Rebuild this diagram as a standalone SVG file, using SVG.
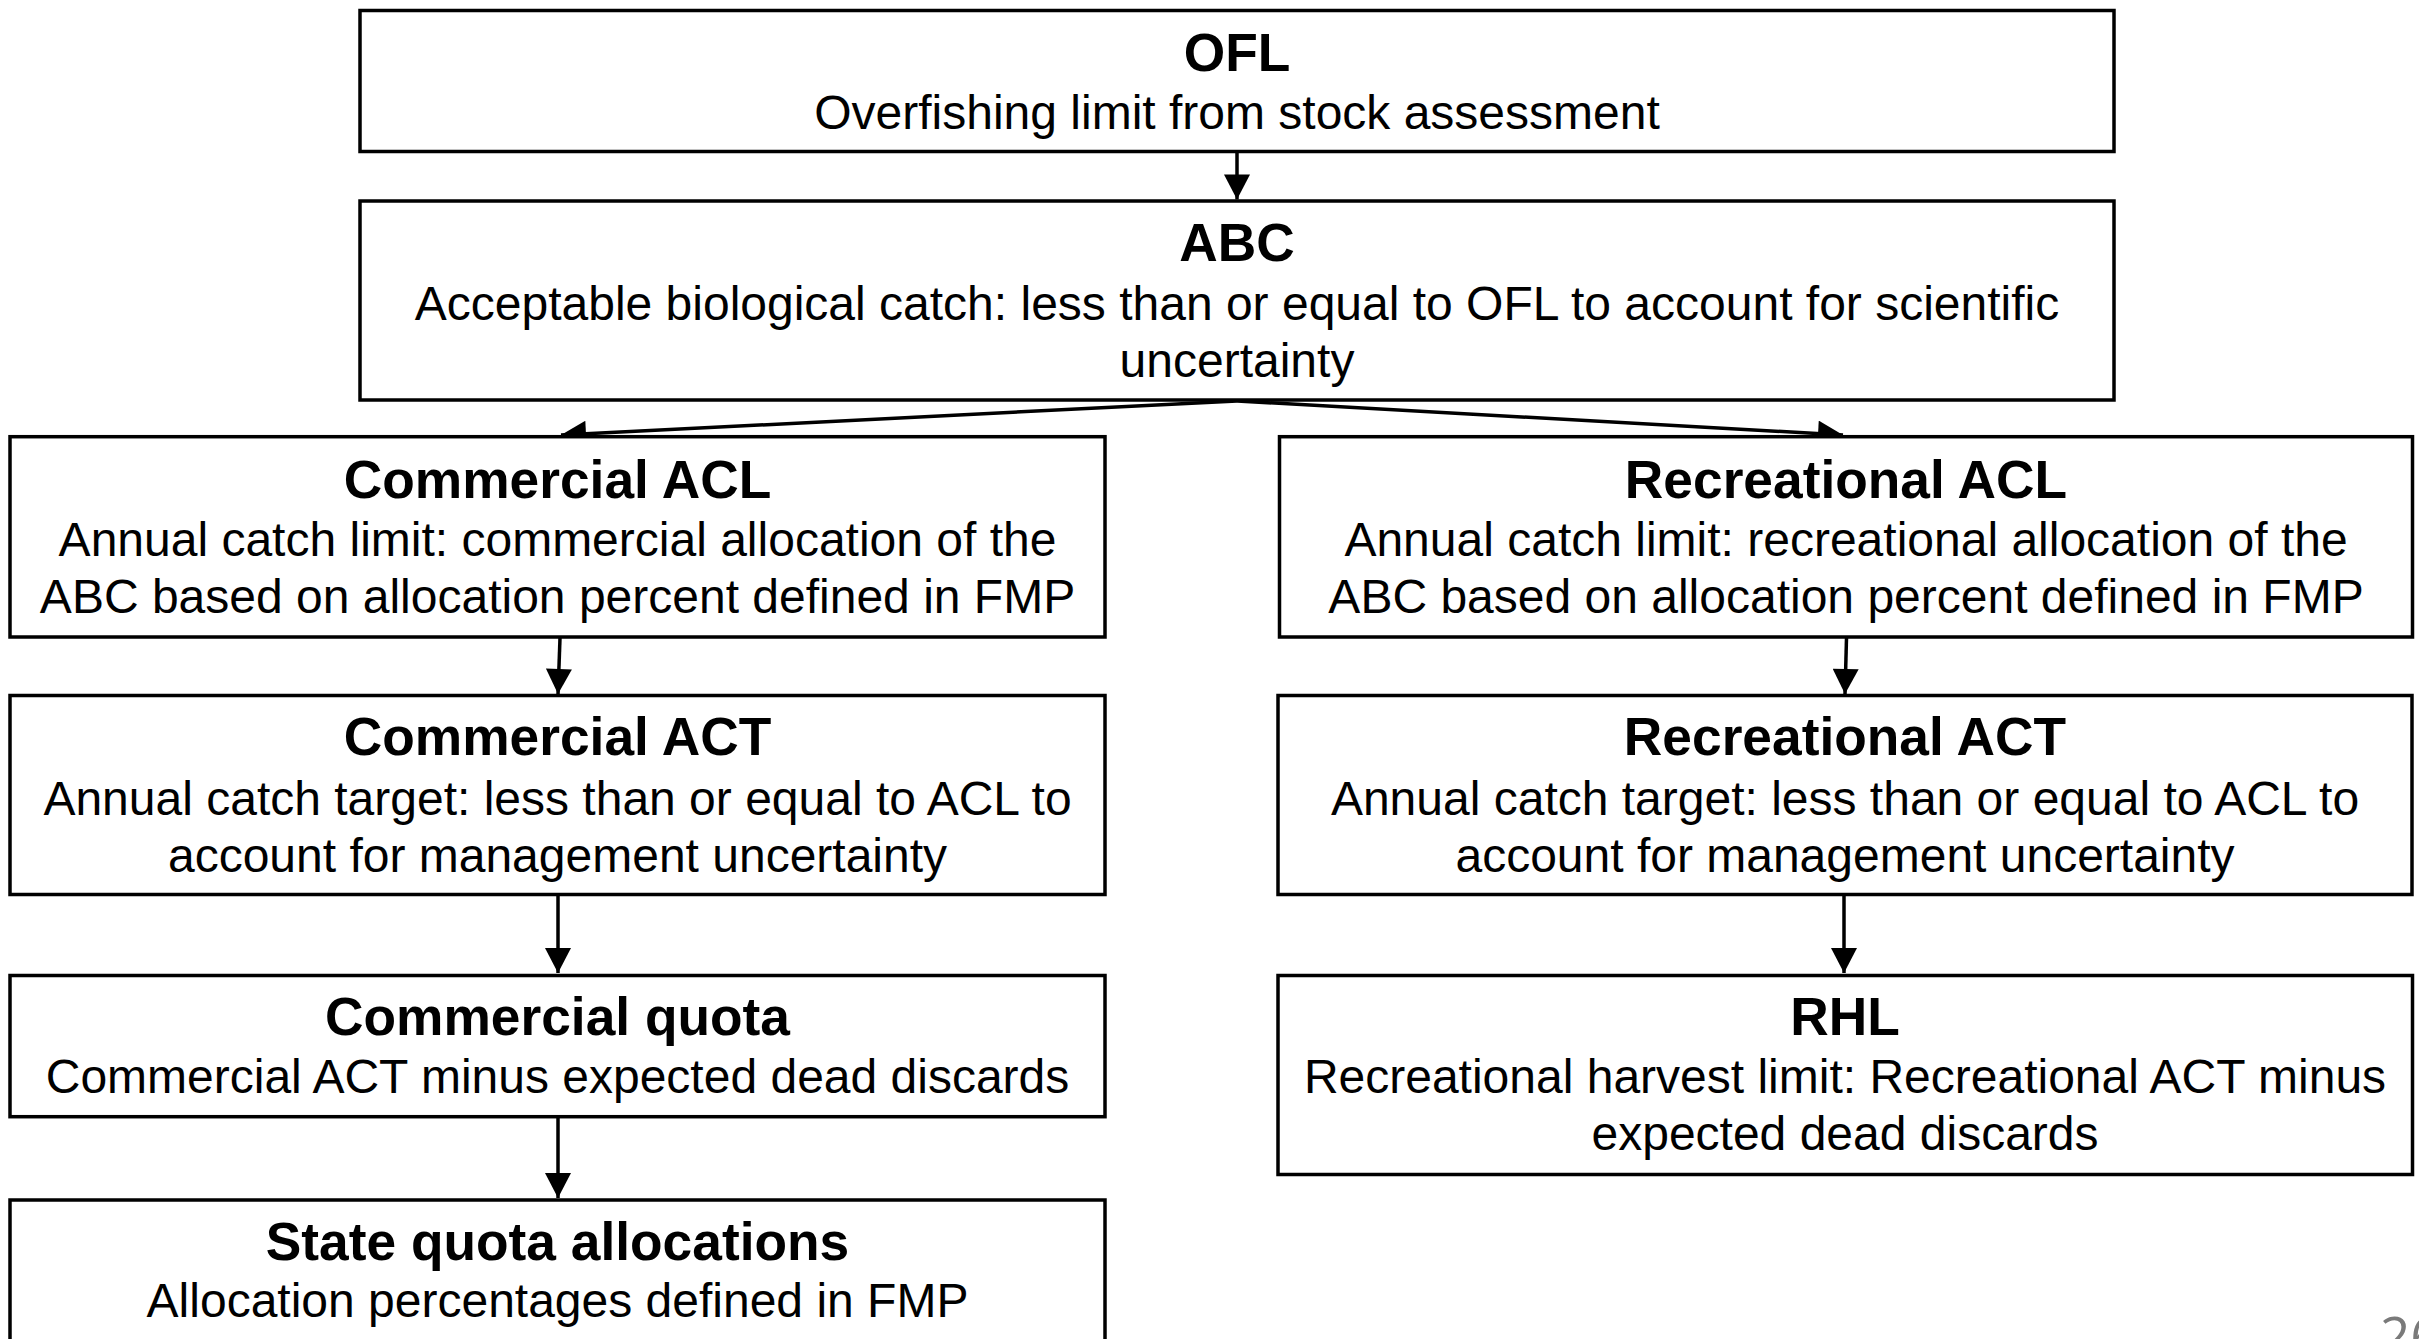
<svg xmlns="http://www.w3.org/2000/svg" width="2419" height="1339" viewBox="0 0 2419 1339">
<style>
.box{fill:#ffffff;stroke:#000000;stroke-width:3.5}
.t{font-family:"Liberation Sans",Arial,sans-serif;font-weight:bold;font-size:53.3px;fill:#000;text-anchor:middle}
.b{font-family:"Liberation Sans",Arial,sans-serif;font-size:48px;fill:#000;text-anchor:middle}
.c{fill:none;stroke:#000;stroke-width:3.5}
</style>
<defs>
<marker id="ah" markerUnits="userSpaceOnUse" markerWidth="26" markerHeight="26" viewBox="0 0 25 26" refX="25" refY="13" orient="auto">
<path d="M0,0 L25,13 L0,26 z" fill="#000"/>
</marker>
</defs>
<rect width="2419" height="1339" fill="#ffffff"/>
<g id="connectors">
<line class="c" x1="1237" y1="152" x2="1237" y2="199.5" marker-end="url(#ah)"/>
<line class="c" x1="1237" y1="401" x2="561" y2="435" marker-end="url(#ah)"/>
<line class="c" x1="1237" y1="401" x2="1843" y2="435" marker-end="url(#ah)"/>
<line class="c" x1="560" y1="638" x2="558" y2="694" marker-end="url(#ah)"/>
<line class="c" x1="558" y1="895" x2="558" y2="973" marker-end="url(#ah)"/>
<line class="c" x1="558" y1="1117" x2="558" y2="1198" marker-end="url(#ah)"/>
<line class="c" x1="1846.5" y1="638" x2="1845" y2="694" marker-end="url(#ah)"/>
<line class="c" x1="1844" y1="895" x2="1844" y2="973" marker-end="url(#ah)"/>
</g>
<g id="ofl">
<rect class="box" x="360" y="10.5" width="1754" height="141"/>
<text class="t" x="1237" y="70.7">OFL</text>
<text class="b" x="1237" y="129.3">Overfishing limit from stock assessment</text>
</g>
<g id="abc">
<rect class="box" x="360" y="201" width="1754" height="199"/>
<text class="t" x="1237" y="261">ABC</text>
<text class="b" x="1237" y="320">Acceptable biological catch: less than or equal to OFL to account for scientific</text>
<text class="b" x="1237" y="376.7">uncertainty</text>
</g>
<g id="commercial-acl">
<rect class="box" x="10" y="436.7" width="1095" height="200.3"/>
<text class="t" x="557.5" y="498.3">Commercial ACL</text>
<text class="b" x="557.5" y="556">Annual catch limit: commercial allocation of the</text>
<text class="b" x="557.5" y="613.3">ABC based on allocation percent defined in FMP</text>
</g>
<g id="commercial-act">
<rect class="box" x="10" y="695.5" width="1095" height="199"/>
<text class="t" x="557.5" y="755">Commercial ACT</text>
<text class="b" x="557.5" y="815">Annual catch target: less than or equal to ACL to</text>
<text class="b" x="557.5" y="871.7">account for management uncertainty</text>
</g>
<g id="commercial-quota">
<rect class="box" x="10" y="975.5" width="1095" height="141.2"/>
<text class="t" x="557.5" y="1035">Commercial quota</text>
<text class="b" x="557.5" y="1092.7">Commercial ACT minus expected dead discards</text>
</g>
<g id="state-quota">
<rect class="box" x="10" y="1200" width="1095" height="160"/>
<text class="t" x="557.5" y="1260">State quota allocations</text>
<text class="b" x="557.5" y="1317">Allocation percentages defined in FMP</text>
</g>
<g id="recreational-acl">
<rect class="box" x="1279.5" y="436.7" width="1133" height="200.3"/>
<text class="t" x="1846" y="498.3">Recreational ACL</text>
<text class="b" x="1846" y="556">Annual catch limit: recreational allocation of the</text>
<text class="b" x="1846" y="613.3">ABC based on allocation percent defined in FMP</text>
</g>
<g id="recreational-act">
<rect class="box" x="1278" y="695.5" width="1134" height="199"/>
<text class="t" x="1845" y="755">Recreational ACT</text>
<text class="b" x="1845" y="815">Annual catch target: less than or equal to ACL to</text>
<text class="b" x="1845" y="871.7">account for management uncertainty</text>
</g>
<g id="rhl">
<rect class="box" x="1278" y="975.5" width="1134.5" height="199"/>
<text class="t" x="1845" y="1035">RHL</text>
<text class="b" x="1845" y="1092.7">Recreational harvest limit: Recreational ACT minus</text>
<text class="b" x="1845" y="1150">expected dead discards</text>
</g>
<text x="2380" y="1355" font-family="'Open Sans','Liberation Sans',sans-serif" font-size="53" fill="#7a7a7a">26</text>
</svg>
